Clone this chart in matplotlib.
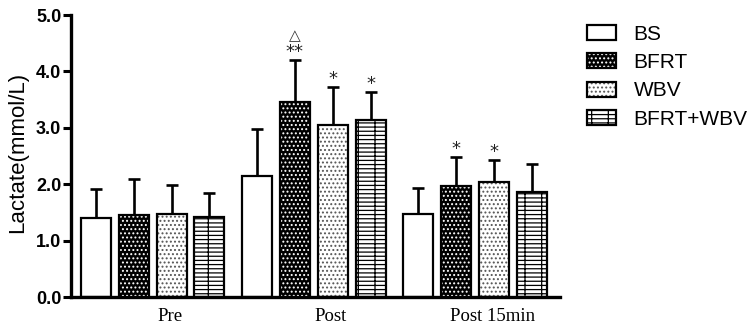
import matplotlib.pyplot as plt
from matplotlib.patches import Patch
from matplotlib.legend_handler import HandlerTuple
import numpy as np

# Data
groups = ["Pre", "Post", "Post 15min"]
series = ["BS", "BFRT", "WBV", "BFRT+WBV"]
means = {
    "BS":       [1.40, 2.15, 1.47],
    "BFRT":     [1.45, 3.46, 1.97],
    "WBV":      [1.48, 3.05, 2.04],
    "BFRT+WBV": [1.42, 3.14, 1.86],
}
err_top = {
    "BS":       [1.91, 2.97, 1.93],
    "BFRT":     [2.09, 4.20, 2.49],
    "WBV":      [1.99, 3.73, 2.43],
    "BFRT+WBV": [1.85, 3.63, 2.35],
}
marks = {
    "BS":       ["", "", ""],
    "BFRT":     ["", "**", "*"],
    "WBV":      ["", "*", "*"],
    "BFRT+WBV": ["", "*", ""],
}
triangle = {"BFRT": [False, True, False]}

# styles: (face, hatch, hatch colour)
styles = {
    "BS":       ("white", None, None),
    "BFRT":     ("black", "....", "white"),
    "WBV":      ("white", "....", "#555555"),
    "BFRT+WBV": ("white", "---+", "black"),
}

plt.rcParams['hatch.linewidth'] = 0.9

fig = plt.figure(figsize=(7.54, 3.29), dpi=100)
ax = fig.add_axes([71/754, 1-297/329, (560-71)/754, (297-15)/329])

stride = 4.25
width = 0.79
gx = np.arange(len(groups)) * stride

for i, s in enumerate(series):
    x = gx + i
    face, hatch, hc = styles[s]
    m = np.array(means[s])
    ax.bar(x, m, width, color=face, edgecolor='none', zorder=2)
    if hatch:
        ax.bar(x, m, width, color='none', edgecolor=hc, hatch=hatch, lw=0, zorder=3)
    ax.bar(x, m, width, color='none', edgecolor='black', lw=1.6, zorder=4)
    up = np.array(err_top[s]) - m
    ax.errorbar(x, m, yerr=[np.zeros_like(up), up], fmt='none', ecolor='black',
                elinewidth=1.9, capsize=4.5, capthick=1.9, zorder=1)
    for j, t in enumerate(marks[s]):
        if t:
            ax.text(x[j], err_top[s][j] - 0.02, t, ha='center', va='bottom',
                    fontsize=13, color='#222222')
    for j, tri in enumerate(triangle.get(s, [])):
        if tri:
            ax.text(x[j], err_top[s][j] + 0.3, "\u25b3", ha='center', va='bottom',
                    fontsize=11, color='#333333', family='DejaVu Sans')

ax.set_xlim(-0.65, gx[-1] + 3 + 0.74)
ax.set_ylim(0, 5)
ax.set_yticks(np.arange(0, 5.01, 1.0))
ax.set_yticklabels([f"{v:.1f}" for v in np.arange(0, 5.01, 1.0)],
                   fontsize=13, fontweight='bold', family='Liberation Sans')
ax.set_xticks(gx + 1.5 + 0.45)
ax.set_xticklabels(groups, fontsize=13.5, family='Liberation Serif')
ax.tick_params(axis='x', length=0, pad=8)
ax.tick_params(axis='y', length=6, width=2.2, pad=1)
for sp in ['top', 'right']:
    ax.spines[sp].set_visible(False)
for sp in ['left', 'bottom']:
    ax.spines[sp].set_linewidth(2.4)

fig.text(18/754, 1-152/329, "Lactate(mmol/L)", rotation=90, ha='center', va='center',
         fontsize=16, family='Liberation Sans')

handles = []
for s in series:
    face, hatch, hc = styles[s]
    parts = [Patch(facecolor=face, edgecolor='none')]
    if hatch:
        parts.append(Patch(facecolor='none', edgecolor=hc, hatch=hatch, lw=0))
    parts.append(Patch(facecolor='none', edgecolor='black', lw=1.6))
    handles.append(tuple(parts))

fig.legend(handles, series, handler_map={tuple: HandlerTuple(ndivide=1)},
           loc='upper left', bbox_to_anchor=(568/754, 1-6/329), frameon=False,
           prop={'family': 'Liberation Sans', 'size': 15},
           handlelength=1.4, handleheight=0.75, handletextpad=0.85, labelspacing=0.45)

fig.savefig("out.png", dpi=100)
